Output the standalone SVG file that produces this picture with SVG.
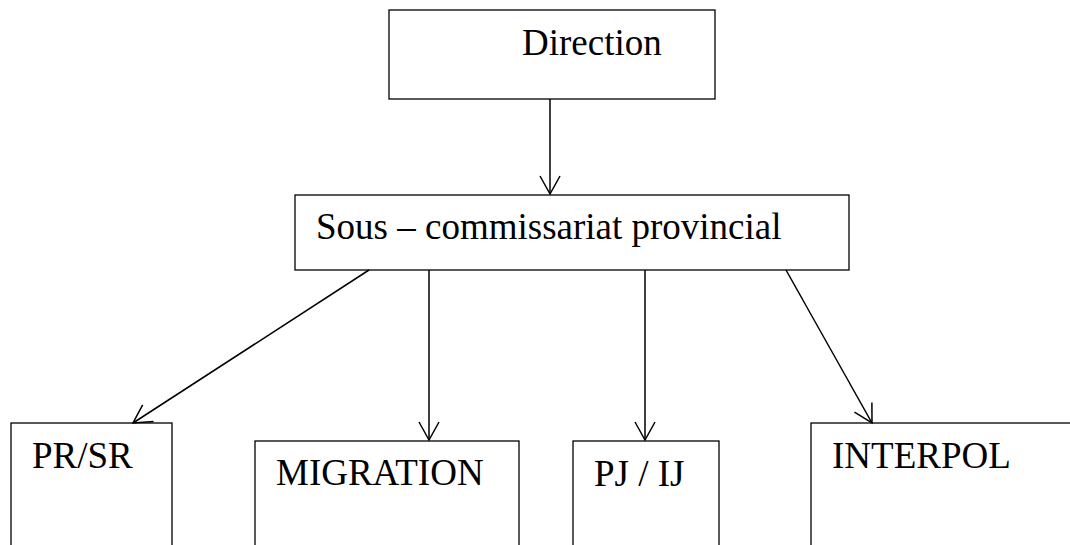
<svg xmlns="http://www.w3.org/2000/svg" width="1070" height="545" viewBox="0 0 1070 545">
<style>
.box{fill:#fff;stroke:#000;stroke-width:1.3}
.lbl{font-family:"Liberation Serif","Times New Roman",serif;font-size:37px;fill:#000}
.con{stroke:#000;stroke-width:1.5;fill:none;marker-end:url(#arr)}
</style>
<defs>
<marker id="arr" markerUnits="userSpaceOnUse" markerWidth="30" markerHeight="30" refX="0" refY="0" orient="auto" overflow="visible">
<path d="M-18,-10 L0,0 L-18,10" fill="none" stroke="#000" stroke-width="1.5"/>
</marker>
</defs>
<rect width="1070" height="545" fill="#fff"/>
<g id="direction">
<rect class="box" x="389" y="10" width="326" height="89"/>
<text class="lbl" x="522" y="55">Direction</text>
</g>
<g id="sous-commissariat">
<rect class="box" x="295" y="195" width="554" height="75"/>
<text class="lbl" x="316" y="239">Sous – commissariat provincial</text>
</g>
<g id="prsr">
<rect class="box" x="11" y="423" width="161" height="140"/>
<text class="lbl" x="32" y="468">PR/SR</text>
</g>
<g id="migration">
<rect class="box" x="255" y="441" width="264" height="120"/>
<text class="lbl" x="276" y="485">MIGRATION</text>
</g>
<g id="pjij">
<rect class="box" x="573" y="441" width="146" height="120"/>
<text class="lbl" x="594" y="486">PJ / IJ</text>
</g>
<g id="interpol">
<rect class="box" x="811" y="423" width="280" height="140"/>
<text class="lbl" x="832" y="468">INTERPOL</text>
</g>
<g id="connectors">
<line class="con" x1="550" y1="99" x2="550" y2="194"/>
<line class="con" x1="369" y1="270" x2="133" y2="423"/>
<line class="con" x1="429" y1="270" x2="429" y2="440"/>
<line class="con" x1="645" y1="270" x2="645" y2="440"/>
<line class="con" x1="786" y1="270" x2="872" y2="423"/>
</g>
</svg>
